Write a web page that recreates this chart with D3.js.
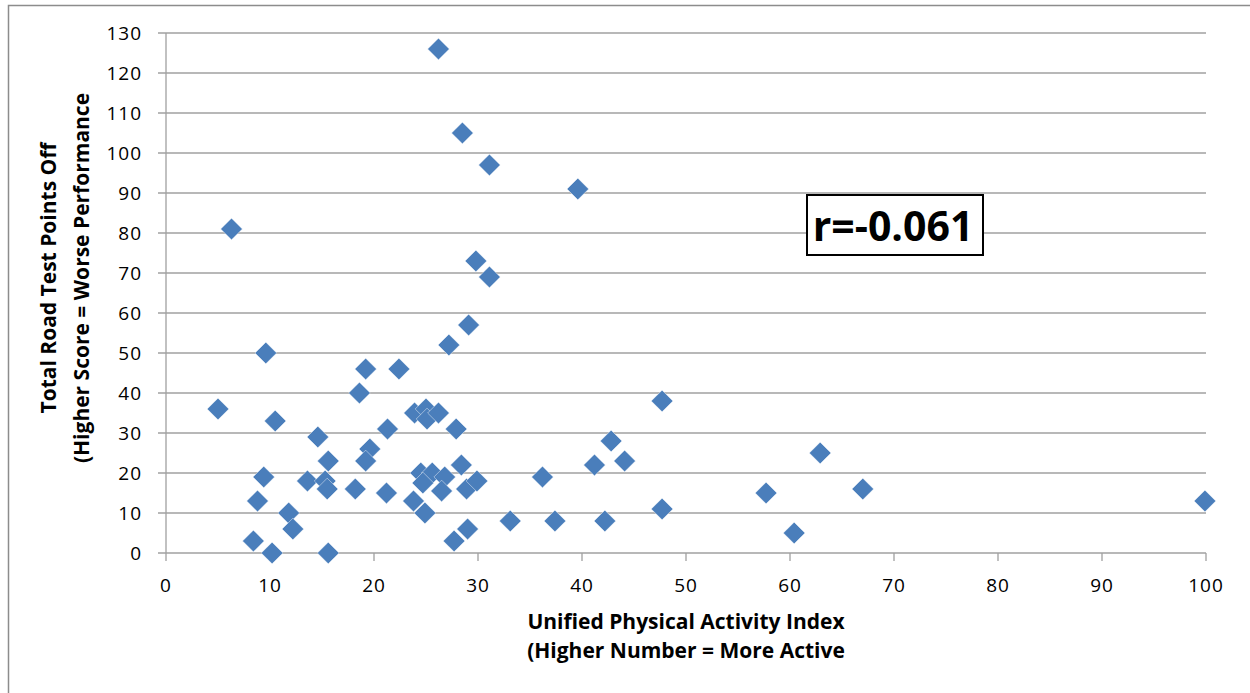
<!DOCTYPE html>
<html lang="en">
<head>
    <meta charset="UTF-8">
    <title>Road Test Points vs Physical Activity</title>
    <script src="https://d3js.org/d3.v7.min.js"></script>
    <style>
        body { margin: 0; background: #fff; }
        svg text { font-family: "Open Sans", "Noto Sans", sans-serif; fill: #000; }
    </style>
</head>
<body>
    <script>
        var w = 1250;
        var h = 693;

        // Unified Physical Activity Index (x) and Total Road Test Points Off (y)
        var activityIndex = [26.2, 28.5, 31.1, 39.6, 6.3, 29.8, 31.1, 29.1, 27.2, 9.6,
                             19.2, 22.4, 18.6, 47.7, 5.0, 23.9, 25.0, 25.1, 26.2, 27.9,
                             10.5, 14.6, 21.3, 19.6, 42.8, 19.2, 15.6, 44.1, 62.9, 41.2,
                             36.2, 9.4, 24.5, 25.6, 24.7, 26.8, 26.5, 28.4, 28.9, 29.9,
                             23.8, 24.9, 13.6, 15.3, 15.5, 18.2, 21.2, 57.7, 67.0, 8.8,
                             99.9, 11.8, 47.7, 12.2, 29.0, 33.1, 37.4, 42.2, 60.4, 8.4,
                             27.7, 10.2, 15.6];
        var pointsOff = [126, 105, 97, 91, 81, 73, 69, 57, 52, 50,
                         46, 46, 40, 38, 36, 35, 36, 33.5, 35, 31,
                         33, 29, 31, 26, 28, 23, 23, 23, 25, 22,
                         19, 19, 20, 20, 17.5, 19, 15.5, 22, 16, 18,
                         13, 10, 18, 18, 16, 16, 15, 15, 16, 13,
                         13, 10, 11, 6, 6, 8, 8, 8, 5, 3,
                         3, 0, 0];
        var xTicks = [0, 10, 20, 30, 40, 50, 60, 70, 80, 90, 100];
        var yTicks = [0, 10, 20, 30, 40, 50, 60, 70, 80, 90, 100, 110, 120, 130];
        var rLabel = "r=-0.061";

        var dataset = activityIndex.map(function(d, i) {
            return { x: d, y: pointsOff[i] };
        });

        var xScale = d3.scaleLinear().domain([0, 100]).range([166, 1206]);
        var yScale = d3.scaleLinear().domain([0, 130]).range([553, 33]);

        var svg = d3.select("body")
            .append("svg")
            .attr("width", w)
            .attr("height", h);

        // outer chart border
        svg.append("rect")
            .attr("x", 8.5)
            .attr("y", 5.5)
            .attr("width", 1300)
            .attr("height", 750)
            .attr("fill", "none")
            .attr("stroke", "#8c8c8c")
            .attr("stroke-width", 1.5);

        // horizontal gridlines + y ticks
        svg.selectAll("line.grid")
            .data(yTicks)
            .enter()
            .append("line")
            .attr("class", "grid")
            .attr("x1", 158)
            .attr("x2", xScale(100))
            .attr("y1", function(d) { return yScale(d); })
            .attr("y2", function(d) { return yScale(d); })
            .attr("stroke", "#a0a0a0")
            .attr("stroke-width", 1.3);

        // y axis line
        svg.append("line")
            .attr("x1", xScale(0)).attr("x2", xScale(0))
            .attr("y1", yScale(130)).attr("y2", yScale(0))
            .attr("stroke", "#a0a0a0")
            .attr("stroke-width", 1.3);

        // x ticks
        svg.selectAll("line.xtick")
            .data(xTicks)
            .enter()
            .append("line")
            .attr("class", "xtick")
            .attr("x1", function(d) { return xScale(d); })
            .attr("x2", function(d) { return xScale(d); })
            .attr("y1", yScale(0))
            .attr("y2", yScale(0) + 8)
            .attr("stroke", "#a0a0a0")
            .attr("stroke-width", 1.3);

        // tick labels
        svg.selectAll("text.ylab")
            .data(yTicks)
            .enter()
            .append("text")
            .attr("class", "ylab")
            .attr("x", 142)
            .attr("y", function(d) { return yScale(d); })
            .attr("dy", "0.35em")
            .attr("text-anchor", "end")
            .attr("font-size", "19px")
            .attr("letter-spacing", "1px")
            .text(function(d) { return d; });

        svg.selectAll("text.xlab")
            .data(xTicks)
            .enter()
            .append("text")
            .attr("class", "xlab")
            .attr("x", function(d) { return xScale(d); })
            .attr("y", 592)
            .attr("text-anchor", "middle")
            .attr("font-size", "19px")
            .attr("letter-spacing", "1px")
            .text(function(d) { return d; });

        // markers
        var diamond = d3.symbol().type(d3.symbolSquare).size(235);
        svg.selectAll("path.pt")
            .data(dataset)
            .enter()
            .append("path")
            .attr("class", "pt")
            .attr("d", diamond)
            .attr("transform", function(d) {
                return "translate(" + xScale(d.x) + "," + yScale(d.y) + ") rotate(45)";
            })
            .attr("fill", "#4a7ebb")
            .attr("stroke", "#ffffff")
            .attr("stroke-width", 0.6)
            .attr("stroke-opacity", 0.7);

        // axis titles
        svg.append("text")
            .attr("x", 686)
            .attr("y", 629)
            .attr("text-anchor", "middle")
            .attr("font-size", "21px")
            .attr("font-weight", "bold")
            .text("Unified Physical Activity Index");
        svg.append("text")
            .attr("x", 686)
            .attr("y", 658)
            .attr("text-anchor", "middle")
            .attr("font-size", "21px")
            .attr("font-weight", "bold")
            .text("(Higher Number = More Active");

        var yTitle = svg.append("g")
            .attr("transform", "translate(0,278) rotate(-90)");
        yTitle.append("text")
            .attr("x", 0)
            .attr("y", 56)
            .attr("text-anchor", "middle")
            .attr("font-size", "21px")
            .attr("font-weight", "bold")
            .text("Total Road Test Points Off");
        yTitle.append("text")
            .attr("x", 0)
            .attr("y", 89)
            .attr("text-anchor", "middle")
            .attr("font-size", "21px")
            .attr("font-weight", "bold")
            .text("(Higher Score = Worse Performance");

        // correlation label box
        svg.append("rect")
            .attr("x", 807)
            .attr("y", 195)
            .attr("width", 176)
            .attr("height", 60)
            .attr("fill", "#fff")
            .attr("stroke", "#000")
            .attr("stroke-width", 2);
        svg.append("text")
            .attr("x", 893)
            .attr("y", 241)
            .attr("text-anchor", "middle")
            .attr("font-size", "41px")
            .attr("font-weight", "bold")
            .text(rLabel);
    </script>
</body>
</html>
